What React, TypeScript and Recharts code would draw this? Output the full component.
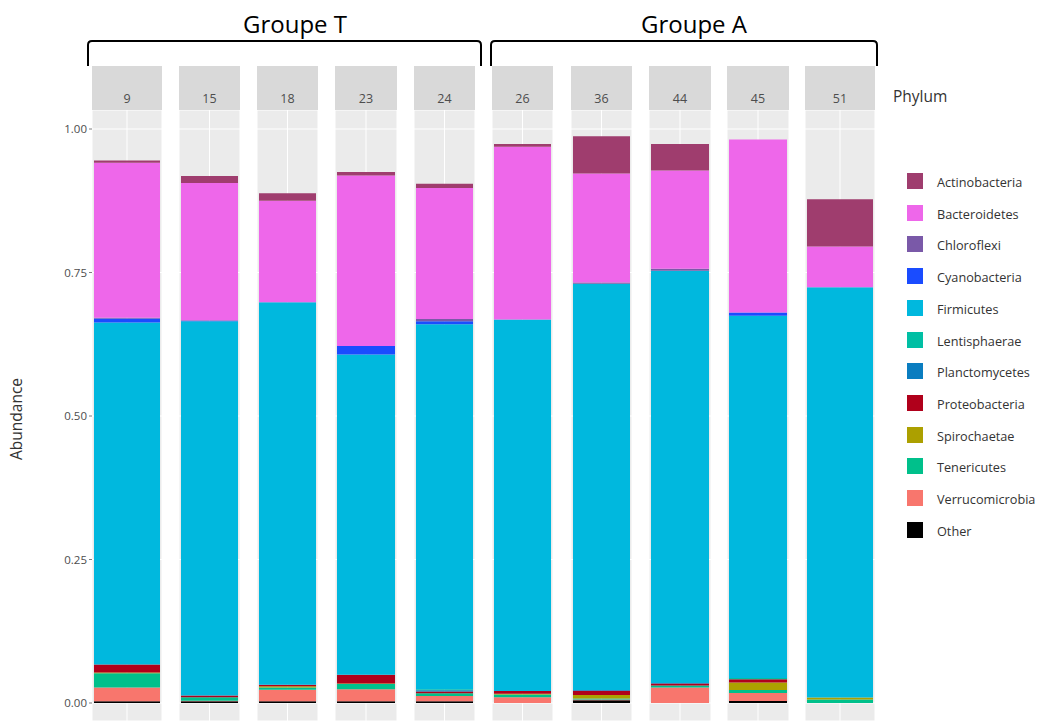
import { BarChart, Bar, XAxis, YAxis, CartesianGrid } from 'recharts'

const SAMPLES = ['9', '15', '18', '23', '24', '26', '36', '44', '45', '51']

// legend order (top of stack first)
const PHYLA = [
  'Actinobacteria',
  'Bacteroidetes',
  'Chloroflexi',
  'Cyanobacteria',
  'Firmicutes',
  'Lentisphaerae',
  'Planctomycetes',
  'Proteobacteria',
  'Spirochaetae',
  'Tenericutes',
  'Verrucomicrobia',
  'Other',
]

const COLORS: Record<string, string> = {
  Actinobacteria: '#9f3d6e',
  Bacteroidetes: '#ee67ea',
  Chloroflexi: '#7a59a8',
  Cyanobacteria: '#1a4cff',
  Firmicutes: '#00b8de',
  Lentisphaerae: '#00bfa4',
  Planctomycetes: '#0a7dc0',
  Proteobacteria: '#b0001b',
  Spirochaetae: '#aca000',
  Tenericutes: '#00c08b',
  Verrucomicrobia: '#f8766d',
  Other: '#000000',
}

const actinobacteria = [0.004, 0.012, 0.013, 0.006, 0.0075, 0.005, 0.065, 0.0465, 0, 0.082]
const bacteroidetes = [0.27, 0.239, 0.177, 0.297, 0.228, 0.301, 0.19, 0.171, 0.301, 0.071]
const chloroflexi = [0.001, 0.001, 0, 0, 0.004, 0, 0.002, 0.0035, 0, 0]
const cyanobacteria = [0.007, 0.001, 0, 0.015, 0.005, 0, 0, 0, 0.006, 0]
const firmicutes = [0.596, 0.652, 0.666, 0.558, 0.636, 0.647, 0.708, 0.718, 0.631, 0.715]
const lentisphaerae = [0, 0, 0, 0, 0.002, 0, 0, 0, 0.002, 0]
const planctomycetes = [0, 0, 0, 0, 0.002, 0, 0.001, 0.001, 0, 0]
const proteobacteria = [0.014, 0.003, 0.003, 0.015, 0.003, 0.005, 0.0075, 0.0035, 0.006, 0]
const spirochaetae = [0.001, 0, 0.002, 0.001, 0, 0.001, 0.006, 0, 0.013, 0.0035]
const tenericutes = [0.025, 0.006, 0.004, 0.009, 0.005, 0.005, 0.002, 0.0035, 0.005, 0.006]
const verrucomicrobia = [0.024, 0.001, 0.02, 0.021, 0.009, 0.01, 0.001, 0.027, 0.014, 0]
const other = [0.003, 0.003, 0.003, 0.003, 0.003, 0, 0.005, 0, 0.0035, 0]

const VALUES: Record<string, number[]> = {
  Actinobacteria: actinobacteria,
  Bacteroidetes: bacteroidetes,
  Chloroflexi: chloroflexi,
  Cyanobacteria: cyanobacteria,
  Firmicutes: firmicutes,
  Lentisphaerae: lentisphaerae,
  Planctomycetes: planctomycetes,
  Proteobacteria: proteobacteria,
  Spirochaetae: spirochaetae,
  Tenericutes: tenericutes,
  Verrucomicrobia: verrucomicrobia,
  Other: other,
}

const Y_TICKS = [0, 0.25, 0.5, 0.75, 1]

// panel placement in the page
const PANEL_LEFT = [92, 179, 257, 335, 414, 492, 571, 649, 727, 805]
const PANEL_WIDTH = [70, 61, 61, 62, 61, 61, 61, 62, 62, 70]
const PANEL_TOP = 110
const PANEL_HEIGHT = 611
const STRIP_TOP = 66
const Y_AXIS_W = 92
const FONT = '"Open Sans", sans-serif'

// 0 sits at y=703, 1 at y=129
const Y_DOMAIN: [number, number] = [-18 / 574, 593 / 574]

function rowFor(i: number) {
  const row: Record<string, string | number> = { sample: SAMPLES[i] }
  for (const p of PHYLA) row[p] = VALUES[p][i]
  return row
}

function Panel({ i }: { i: number }) {
  const first = i === 0
  const w = PANEL_WIDTH[i] + (first ? Y_AXIS_W : 0)
  const left = first ? 0 : PANEL_LEFT[i]
  const stackOrder = [...PHYLA].reverse()
  return (
    <div style={{ position: 'absolute', left, top: PANEL_TOP }}>
      <BarChart
        width={w}
        height={PANEL_HEIGHT}
        data={[rowFor(i)]}
        margin={{ top: 0, right: 0, bottom: 0, left: 0 }}
        barCategoryGap={2}
      >
        <CartesianGrid fill="#ebebeb" stroke="#ffffff" strokeWidth={1} />
        <XAxis dataKey="sample" hide />
        <YAxis
          type="number"
          domain={Y_DOMAIN}
          ticks={Y_TICKS}
          allowDataOverflow
          hide={!first}
          width={Y_AXIS_W}
          axisLine={false}
          tickSize={3}
          tickMargin={2}
          tickLine={{ stroke: '#7f7f7f' }}
          tickFormatter={(v: number) => v.toFixed(2)}
          tick={{ fontSize: 11.5, fill: '#4d4d4d', fontFamily: FONT }}
        />
        {stackOrder.map((p) => (
          <Bar key={p} dataKey={p} stackId="a" fill={COLORS[p]} isAnimationActive={false} />
        ))}
      </BarChart>
    </div>
  )
}

function Strip({ i }: { i: number }) {
  return (
    <div
      style={{
        position: 'absolute',
        left: PANEL_LEFT[i],
        top: STRIP_TOP,
        width: PANEL_WIDTH[i],
        height: PANEL_TOP - STRIP_TOP,
        background: '#d9d9d9',
        color: '#4d4d4d',
        fontFamily: FONT,
        fontSize: 12.5,
        textAlign: 'center',
        lineHeight: '14px',
        boxSizing: 'border-box',
        paddingTop: 26,
      }}
    >
      {SAMPLES[i]}
    </div>
  )
}

function Legend() {
  return (
    <div style={{ position: 'absolute', left: 0, top: 0, fontFamily: FONT }}>
      <div style={{ position: 'absolute', left: 893, top: 85, fontSize: 15.5, color: '#333', whiteSpace: 'nowrap' }}>
        Phylum
      </div>
      {PHYLA.map((p, k) => (
        <div key={p}>
          <div
            style={{
              position: 'absolute',
              left: 907,
              top: 173 + k * 31.7,
              width: 16,
              height: 16,
              background: COLORS[p],
            }}
          />
          <div
            style={{
              position: 'absolute',
              left: 937,
              top: 174 + k * 31.7,
              lineHeight: '16px',
              fontSize: 12.7,
              color: '#333',
              whiteSpace: 'nowrap',
            }}
          >
            {p}
          </div>
        </div>
      ))}
    </div>
  )
}

function Overlay() {
  const bracket = (x1: number, x2: number) =>
    `M${x1},66 L${x1},45 Q${x1},41 ${x1 + 4},41 L${x2 - 4},41 Q${x2},41 ${x2},45 L${x2},66`
  return (
    <svg width={1039} height={721} style={{ position: 'absolute', left: 0, top: 0, pointerEvents: 'none' }}>
      <path d={bracket(88, 481)} fill="none" stroke="#000" strokeWidth={2} />
      <path d={bracket(491, 877)} fill="none" stroke="#000" strokeWidth={2} />
      <text x={295} y={33} textAnchor="middle" fontFamily={FONT} fontSize={24} fill="#000">
        Groupe T
      </text>
      <text x={694} y={33} textAnchor="middle" fontFamily={FONT} fontSize={24} fill="#000">
        Groupe A
      </text>
      <text
        x={22}
        y={419}
        textAnchor="middle"
        fontFamily={FONT}
        fontSize={15.5}
        fill="#333"
        transform="rotate(-90 22 419)"
      >
        Abundance
      </text>
    </svg>
  )
}

export default function App() {
  return (
    <div
      style={{
        position: 'absolute',
        left: 0,
        top: 0,
        width: 1039,
        height: 721,
        overflow: 'hidden',
        background: '#fff',
      }}
    >
      {SAMPLES.map((s, i) => (
        <Panel key={s} i={i} />
      ))}
      {SAMPLES.map((s, i) => (
        <Strip key={s} i={i} />
      ))}
      <Legend />
      <Overlay />
    </div>
  )
}
